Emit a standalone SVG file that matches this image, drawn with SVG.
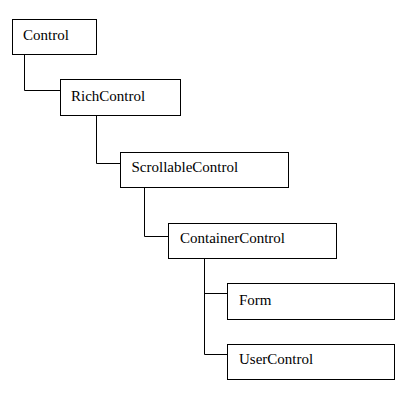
<svg xmlns="http://www.w3.org/2000/svg" width="416" height="396" viewBox="0 0 416 396">
<style>
.box{fill:#fff;stroke:#000;stroke-width:1}
.lbl{font-family:'Liberation Serif','Times New Roman','DejaVu Serif',serif;font-size:15px;fill:#000}
.con{fill:none;stroke:#000;stroke-width:1}
</style>
<rect width="416" height="396" fill="#fff"/>
<g id="connectors">
<path class="con" d="M24.5,54.5 V90.5 H60.5"/>
<path class="con" d="M96.5,115.5 V163.5 H120.5"/>
<path class="con" d="M144.5,187.5 V236.5 H168.5"/>
<path class="con" d="M204.5,258.5 V354.5 H227.5 M204.5,293.5 H227.5"/>
</g>
<g id="control"><rect class="box" x="12.5" y="19.5" width="84" height="35"/><text class="lbl" font-family="Liberation Serif, serif" x="23" y="40">Control</text></g>
<g id="richcontrol"><rect class="box" x="60.5" y="79.5" width="120" height="36"/><text class="lbl" x="71" y="101">RichControl</text></g>
<g id="scrollablecontrol"><rect class="box" x="120.5" y="152.5" width="168" height="35"/><text class="lbl" x="131.5" y="172">ScrollableControl</text></g>
<g id="containercontrol"><rect class="box" x="168.5" y="223.5" width="168" height="35"/><text class="lbl" x="180" y="243">ContainerControl</text></g>
<g id="form"><rect class="box" x="227.5" y="283.5" width="167" height="36"/><text class="lbl" x="239" y="304.5">Form</text></g>
<g id="usercontrol"><rect class="box" x="227.5" y="344.5" width="167" height="35"/><text class="lbl" x="239" y="363.5">UserControl</text></g>
</svg>
